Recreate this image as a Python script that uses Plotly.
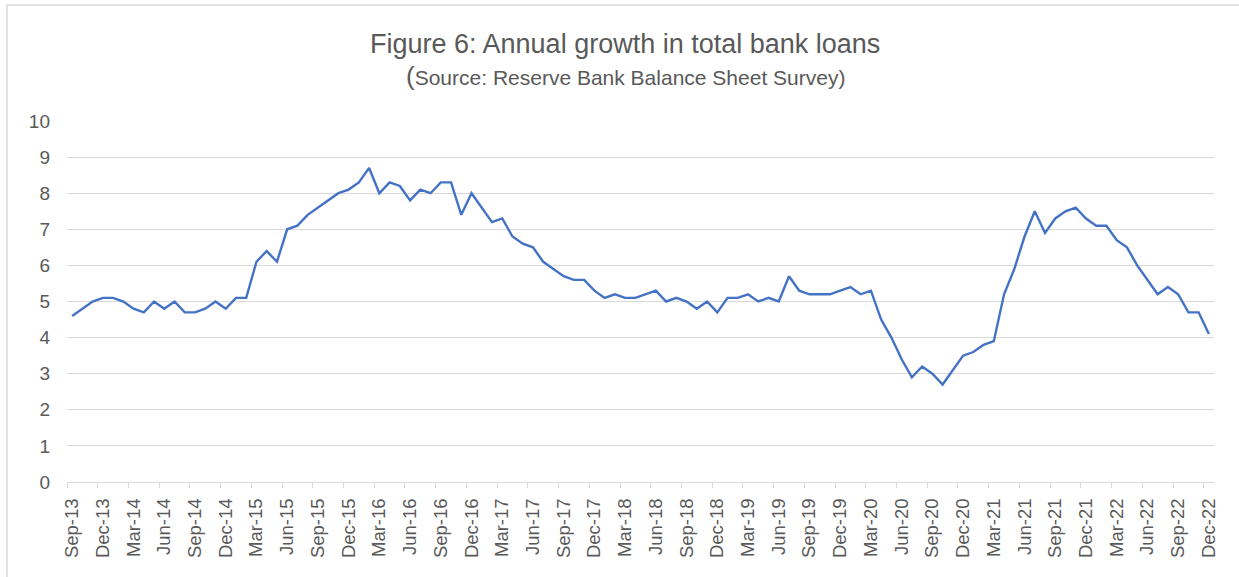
import pandas as pd
import plotly.graph_objects as go

# Monthly categories Sep-13 .. Dec-22
months = list(pd.date_range("2013-09-01", "2022-12-01", freq="MS").strftime("%b-%y"))

# Annual growth in total bank loans (%)
growth = [
    4.6, 4.8, 5.0, 5.1,                                               # 2013 Sep-Dec
    5.1, 5.0, 4.8, 4.7, 5.0, 4.8, 5.0, 4.7, 4.7, 4.8, 5.0, 4.8,       # 2014
    5.1, 5.1, 6.1, 6.4, 6.1, 7.0, 7.1, 7.4, 7.6, 7.8, 8.0, 8.1,       # 2015
    8.3, 8.7, 8.0, 8.3, 8.2, 7.8, 8.1, 8.0, 8.3, 8.3, 7.4, 8.0,       # 2016
    7.6, 7.2, 7.3, 6.8, 6.6, 6.5, 6.1, 5.9, 5.7, 5.6, 5.6, 5.3,       # 2017
    5.1, 5.2, 5.1, 5.1, 5.2, 5.3, 5.0, 5.1, 5.0, 4.8, 5.0, 4.7,       # 2018
    5.1, 5.1, 5.2, 5.0, 5.1, 5.0, 5.7, 5.3, 5.2, 5.2, 5.2, 5.3,       # 2019
    5.4, 5.2, 5.3, 4.5, 4.0, 3.4, 2.9, 3.2, 3.0, 2.7, 3.1, 3.5,       # 2020
    3.6, 3.8, 3.9, 5.2, 5.9, 6.8, 7.5, 6.9, 7.3, 7.5, 7.6, 7.3,       # 2021
    7.1, 7.1, 6.7, 6.5, 6.0, 5.6, 5.2, 5.4, 5.2, 4.7, 4.7, 4.1,       # 2022
]

tick_positions = list(range(0, len(months), 3))
tick_labels = [months[i] for i in tick_positions]
boundary_ticks = [i - 0.5 for i in tick_positions]
y_ticks = list(range(0, 11))

FONT = "Liberation Sans, Arial, sans-serif"
TXT = "#595959"
GRID = "#D9D9D9"

fig = go.Figure()
fig.add_trace(go.Scatter(
    x=list(range(len(months))), y=growth, mode="lines",
    line=dict(color="#4472C4", width=2.4),
    customdata=months, hovertemplate="%{customdata}: %{y}<extra></extra>",
    showlegend=False,
))

W, H = 1239, 577
L, R, T, B = 67, 25, 121, 95
pw, ph = W - L - R, H - T - B

def px_x(p):
    return (p - L) / pw

def px_y(p):
    return (H - B - p) / ph

fig.update_layout(
    width=W, height=H,
    margin=dict(l=L, r=R, t=T, b=B),
    paper_bgcolor="white", plot_bgcolor="white",
    font=dict(family=FONT, color=TXT),
    xaxis=dict(
        range=[-0.5, len(months) - 0.5],
        tickmode="array", tickvals=tick_positions, ticktext=tick_labels,
        tickangle=-90, tickfont=dict(size=18.5, color=TXT, family=FONT),
        ticks="", showgrid=False, zeroline=False,
        showline=True, linecolor=GRID, linewidth=1,
        ticklabelstandoff=8,
        minor=dict(tickmode="array", tickvals=boundary_ticks, ticks="outside",
                   ticklen=5, tickcolor=GRID, tickwidth=1, showgrid=False),
    ),
    yaxis=dict(
        range=[0, 10], tickmode="array", tickvals=y_ticks,
        tickfont=dict(size=19, color=TXT, family=FONT),
        showgrid=True, gridcolor=GRID, gridwidth=1,
        zeroline=False, showline=False, ticks="",
        ticklabelstandoff=16,
    ),
    annotations=[
        dict(text="Figure 6: Annual growth in total bank loans",
             xref="paper", yref="paper", x=px_x(625), y=px_y(44),
             xanchor="center", yanchor="middle", showarrow=False,
             font=dict(size=27, color=TXT, family=FONT)),
        dict(text="<span style='font-size:26px'>(</span>Source: Reserve Bank Balance Sheet Survey)",
             xref="paper", yref="paper", x=px_x(625), y=px_y(76),
             xanchor="center", yanchor="middle", showarrow=False,
             font=dict(size=21, color=TXT, family=FONT)),
    ],
    shapes=[
        dict(type="rect", xref="paper", yref="paper",
             x0=px_x(7), x1=px_x(1300), y0=px_y(640), y1=px_y(5),
             line=dict(color=GRID, width=1.5), fillcolor="rgba(0,0,0,0)", layer="below"),
    ],
)

fig.write_html("out.html", config={"displayModeBar": False},
               post_script="document.body.style.margin='0';document.body.style.overflow='hidden';")
